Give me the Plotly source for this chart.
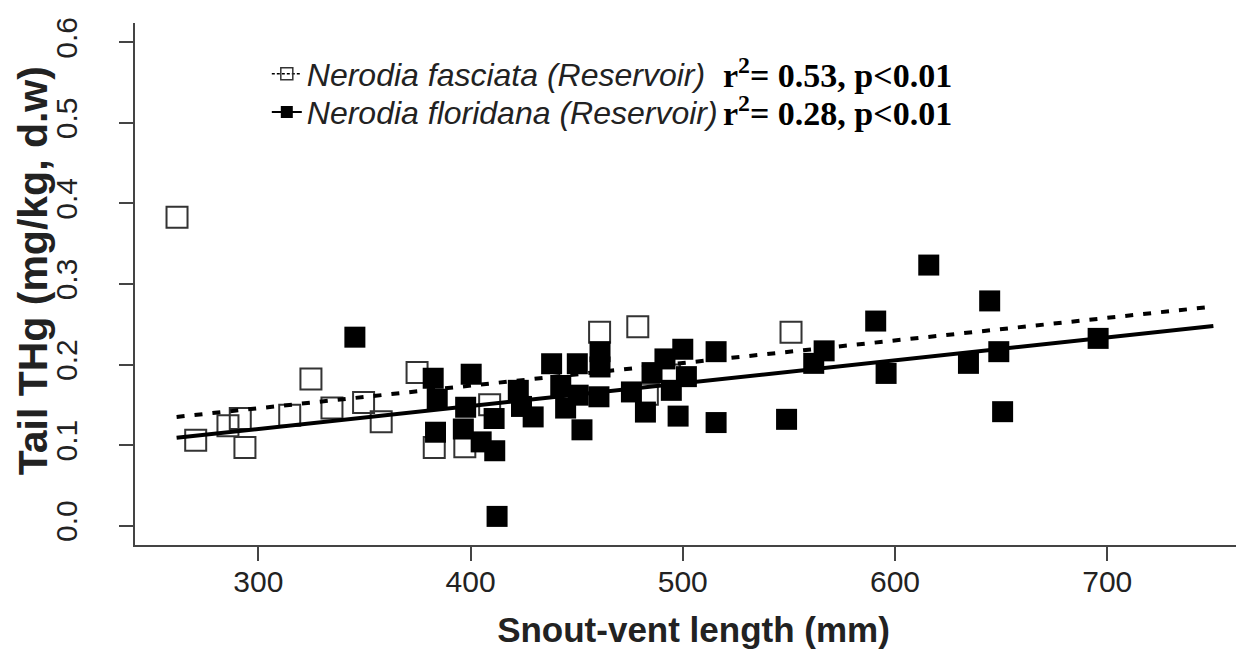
import plotly.graph_objects as go

# Nerodia fasciata (open squares)
fas_svl = [261.7, 324.8, 374.8, 285.7, 291.5, 270.5, 293.7, 314.8, 334.7, 349.6,
           357.9, 382.9, 397.3, 409.0, 460.8, 478.8, 551.0, 483.3, 493.7]
fas_thg = [0.383, 0.182, 0.190, 0.124, 0.133, 0.106, 0.097, 0.137, 0.146, 0.153,
           0.129, 0.097, 0.098, 0.150, 0.240, 0.247, 0.240, 0.163, 0.187]

# Nerodia floridana (filled squares)
flo_svl = [345.5, 382.4, 384.3, 400.3, 383.5, 412.5, 397.7, 396.6, 405.0, 411.4,
           411.1, 422.5, 429.5, 424.0, 438.2, 450.3, 442.5, 444.8, 452.5, 450.7,
           460.5, 461.0, 461.0, 475.8, 482.4, 485.5, 491.6, 500.0, 494.6, 497.8,
           501.7, 515.7, 515.7, 548.9, 561.7, 566.6, 615.9, 590.9, 595.8, 644.6,
           634.6, 648.9, 650.7, 695.7]
flo_thg = [0.234, 0.183, 0.157, 0.188, 0.116, 0.0115, 0.147, 0.120, 0.104, 0.093,
           0.133, 0.168, 0.135, 0.148, 0.201, 0.201, 0.174, 0.146, 0.119, 0.162,
           0.160, 0.216, 0.197, 0.166, 0.141, 0.190, 0.207, 0.219, 0.168, 0.136,
           0.185, 0.216, 0.128, 0.132, 0.2015, 0.217, 0.3235, 0.254, 0.189, 0.279,
           0.2015, 0.216, 0.1415, 0.2325]

# fitted lines
fit_x = [261.5, 750.0]
fas_fit = [0.135, 0.272]
flo_fit = [0.109, 0.248]

fas_label = "Nerodia fasciata (Reservoir)"
flo_label = "Nerodia floridana (Reservoir)"
fas_stat = "r<sup>2</sup>= 0.53, p&lt;0.01"
flo_stat = "r<sup>2</sup>= 0.28, p&lt;0.01"
y_title = "<b>Tail THg (mg/kg, d.w)</b>"

fig = go.Figure()
fig.add_trace(go.Scatter(x=fas_svl, y=fas_thg, mode="markers", showlegend=False,
                         marker=dict(symbol="square-open", size=21, color="#333333",
                                     line=dict(width=2, color="#333333"))))
fig.add_trace(go.Scatter(x=flo_svl, y=flo_thg, mode="markers", showlegend=False,
                         marker=dict(symbol="square", size=21, color="black", line=dict(width=0))))
fig.add_trace(go.Scatter(x=fit_x, y=fas_fit, mode="lines", showlegend=False,
                         line=dict(color="black", width=4, dash="8px,10px")))
fig.add_trace(go.Scatter(x=fit_x, y=flo_fit, mode="lines", showlegend=False,
                         line=dict(color="black", width=4)))

# legend entries, one legend per row so the row spacing can be set
fig.add_trace(go.Scatter(x=[None], y=[None], mode="lines+markers", name=fas_label, legend="legend",
                         line=dict(color="black", width=1.5, dash="3px,2px"),
                         marker=dict(symbol="square-open", size=12, color="#333333",
                                     line=dict(width=1.5, color="#333333"))))
fig.add_trace(go.Scatter(x=[None], y=[None], mode="lines+markers", name=flo_label, legend="legend2",
                         line=dict(color="black", width=2),
                         marker=dict(symbol="square", size=12, color="black")))

for txt, yy in [(fas_stat, 0.905), (flo_stat, 0.832)]:
    fig.add_annotation(x=0.525, y=yy, xref="paper", yref="paper", text=txt,
                       showarrow=False, xanchor="left", yanchor="middle",
                       font=dict(family="Liberation Serif", size=34, color="black", weight="bold"))

fig.add_annotation(x=-0.091, y=0.525, xref="paper", yref="paper", text=y_title,
                   showarrow=False, textangle=-90, xanchor="center", yanchor="middle",
                   font=dict(family="Liberation Sans", size=41, color="#222222"))

leg_style = dict(xanchor="left", yanchor="top", bgcolor="rgba(0,0,0,0)", itemwidth=30,
                 font=dict(size=32, style="italic", color="#222222"))

fig.update_layout(
    width=1244, height=664,
    margin=dict(l=127, r=0, t=15, b=127),
    plot_bgcolor="white", paper_bgcolor="white",
    font=dict(family="Liberation Sans", color="#222222"),
    legend=dict(x=0.118, y=0.955, **leg_style),
    legend2=dict(x=0.118, y=0.882, **leg_style),
    xaxis=dict(range=[241.9, 768.2], showgrid=False, zeroline=False, automargin=False,
               showline=True, linecolor="#444444", linewidth=2,
               ticks="outside", ticklen=14, tickwidth=1.5, tickcolor="#444444",
               tickvals=[300, 400, 500, 600, 700], tickfont=dict(size=30, color="#222222"),
               ticklabelstandoff=-5,
               title=dict(text="<b>Snout-vent length (mm)</b>", font=dict(size=35, color="#222222"),
                          standoff=20)),
    yaxis=dict(range=[-0.024, 0.624], showgrid=False, zeroline=False, automargin=False,
               showline=True, linecolor="#444444", linewidth=2,
               ticks="outside", ticklen=14, tickwidth=1.5, tickcolor="#444444",
               tickvals=[0, 0.1, 0.2, 0.3, 0.4, 0.5, 0.6], ticktext=["0.0", "0.1", "0.2", "0.3", "0.4", "0.5", "0.6"],
               tickangle=-90, tickfont=dict(size=30, color="#222222"), ticklabelstandoff=30),
)

fig.write_html("out.html")
